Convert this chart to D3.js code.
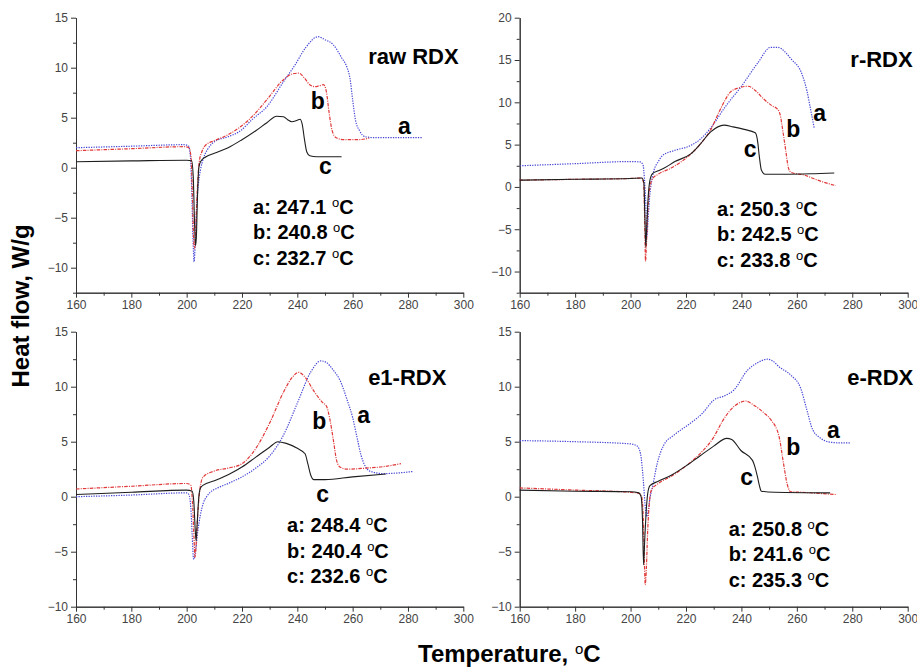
<!DOCTYPE html>
<html>
<head>
<meta charset="utf-8">
<script src="https://cdn.jsdelivr.net/npm/d3@7"></script>
<style>
body { margin: 0; background: #fff; }
svg { display: block; font-family: "Liberation Sans", Arial, sans-serif; }
</style>
</head>
<body>
<svg id="chart" width="917" height="669"></svg>
<script>
// DSC curves, [temperature (oC), heat flow (W/g)]
var rawA = [[160,2.0],[180,2.15],[199,2.3],[200.6,2.2],[201.4,1.0],[201.9,-3],[202.4,-8],[202.7,-9.4],[203.1,-7.5],[203.6,-4],[204.3,-1.5],[205,-0.2],[206,0.9],[207.5,1.8],[210,2.6],[215,3.1],[219,3.6],[224,4.9],[229,6.1],[235,8.6],[239,10.2],[243,12.0],[247.5,13.1],[250,12.8],[253,12.3],[256,11.0],[258,10.0],[259,9.0],[260,6.8],[261,4.8],[262.5,3.7],[264.5,3.1],[268,3.0],[275,3.0],[285,3.0]];
var rawB = [[160,1.7],[180,1.9],[199,2.1],[200.8,2.0],[201.6,1.0],[202.1,-3],[202.6,-7.5],[202.9,-8.1],[203.3,-6],[203.8,-2.5],[204.5,0.5],[205.5,1.6],[207,2.3],[210,2.7],[215,3.3],[219,4.0],[224,5.2],[229,6.8],[235,8.8],[238.5,9.4],[240.5,9.45],[242.5,9.0],[244.5,8.3],[246.5,8.1],[248,8.2],[249.5,8.3],[250.5,7.6],[251.5,5.5],[252.5,3.8],[254,3.0],[257,2.8],[262,2.8],[266,2.95]];
var rawC = [[160,0.6],[180,0.68],[200,0.75],[201.8,0.7],[202.4,-1],[202.8,-5],[203.2,-7.8],[203.5,-7],[203.9,-3],[204.4,0],[205,0.6],[207,1.1],[210,1.45],[215,2.0],[220,2.8],[225,3.7],[229,4.5],[232.5,5.15],[235,5.1],[236.5,4.8],[238,4.6],[240,4.75],[241,4.85],[241.8,4.3],[242.6,2.8],[243.4,1.6],[244.5,1.2],[247,1.1],[256,1.1]];

var rA = [[160,2.5],[180,2.75],[200,3.0],[203.5,2.95],[204.5,2.6],[205,1],[205.5,-2],[205.9,-5.8],[206.3,-4],[206.8,-1.5],[207.5,0.5],[208.5,2.0],[210,3.0],[211.5,3.7],[215.7,4.3],[221.7,4.9],[225,5.6],[229,7.0],[234,9.4],[240,11.9],[246,14.7],[250.5,16.5],[253,16.5],[258,15.1],[262,13.2],[263.6,11.4],[265,9.1],[266.3,6.9]];
var rB = [[160,0.8],[180,0.9],[200,1.0],[204,1.05],[204.7,0.5],[205.1,-4],[205.4,-8.8],[205.7,-7],[206.2,-3],[207,0],[208,1.0],[210,1.5],[215,2.3],[220,3.4],[225,5.0],[229,6.8],[232,8.9],[236,11.2],[239,11.7],[242.5,11.9],[245,11.4],[248,10.4],[251,9.6],[253,9.2],[254,8.5],[255,6.5],[256,4.3],[257,2.2],[258,1.7],[262.7,1.4],[267.5,0.8],[274,0.15]];
var rC = [[160,0.8],[180,0.9],[200,1.0],[204,1.05],[204.8,0.5],[205.2,-4],[205.5,-7.1],[205.8,-5],[206.3,-1.5],[207,0.8],[208,1.6],[210,1.9],[212,2.2],[216,3.0],[221.7,3.9],[225,5.0],[228.9,6.5],[233.7,7.3],[237,7.1],[241,6.8],[245,6.4],[245.8,5.5],[246.5,3.5],[247.2,2.0],[248.5,1.5],[255,1.5],[265,1.55],[273.5,1.65]];

var e1A = [[160,0.0],[180,0.15],[200,0.35],[200.8,0.2],[201.5,-1],[202,-3.5],[202.5,-5.7],[203,-5.3],[204,-3.2],[205,-1.6],[206,-0.6],[207.2,0],[208.5,0.4],[210.8,0.75],[215,1.2],[220,1.8],[225,2.6],[230,3.7],[235,5.6],[240,8.5],[245,11.4],[248.5,12.35],[250.5,12.2],[253,11.5],[255.4,10.6],[258,8.8],[260,7.2],[261.5,5.5],[263,3.8],[264.5,2.8],[266,2.35],[271,2.1],[276,2.15],[282,2.3]];
var e1B = [[160,0.7],[180,0.95],[200,1.2],[201.5,1.05],[202.2,-1],[202.7,-4],[203,-5.5],[203.4,-4.5],[203.9,-2],[204.5,0],[205.2,1.3],[206,1.8],[209.6,2.3],[215,2.6],[220,3.0],[225.3,4.5],[230,6.7],[235,9.5],[238,10.8],[240.5,11.3],[243,10.8],[246,9.6],[249,8.6],[250.6,8.2],[251.8,7.0],[253,5.2],[254.2,3.3],[255.4,2.7],[258,2.5],[265,2.6],[270,2.7],[277.5,3.0]];
var e1C = [[160,0.2],[180,0.4],[200,0.6],[202,0.5],[202.6,-0.5],[203.1,-3],[203.4,-4],[203.8,-2.5],[204.4,0],[205,0.8],[206,1.05],[210,1.45],[215,2.0],[220,2.7],[225,3.6],[230,4.5],[233,5.0],[236,4.85],[240,4.4],[242.8,3.9],[243.8,3.0],[244.8,2.0],[246,1.55],[250,1.55],[260,1.8],[272,2.06]];

var eA = [[160,5.1],[180,5.0],[200,4.8],[202.4,4.6],[203.6,3.9],[204.6,1.5],[205.2,-0.6],[205.8,-1.8],[206.4,-1.2],[207.1,0],[207.8,0.75],[209.6,3.0],[212,4.7],[215.7,5.6],[221.7,6.7],[226,7.6],[230.1,8.8],[233.7,9.15],[237.3,9.7],[242.2,11.5],[246,12.2],[249.4,12.5],[251.5,12.3],[253.6,11.8],[257.8,11.06],[261.4,9.85],[263.6,7.9],[265.7,6.1],[268.7,5.3],[271.1,5.0],[275,4.9],[279.5,4.9]];
var eB = [[160,0.8],[180,0.6],[200,0.4],[203,0.3],[204,0],[204.6,-2],[205,-6],[205.3,-8.0],[205.7,-6.5],[206.2,-3],[206.8,-0.5],[207.5,0.6],[210,1.2],[215,1.9],[220,2.8],[225,3.9],[230.1,5.45],[233,6.8],[236.1,7.9],[239,8.5],[241.6,8.7],[244,8.4],[248.2,7.6],[250.6,7.0],[253.6,5.45],[255.2,3.0],[256.6,1.06],[257.8,0.45],[262,0.4],[268,0.3],[274,0.2]];
var eC = [[160,0.6],[180,0.5],[200,0.45],[203,0.35],[203.8,0],[204.3,-2],[204.7,-6.2],[205.1,-4],[205.6,-1.5],[206.2,0.3],[207,1.0],[210,1.4],[215,2.0],[220,2.8],[225,3.7],[230,4.6],[234.7,5.3],[236.5,5.2],[239.8,4.2],[244,3.3],[245,2.6],[245.8,1.8],[246.5,1.0],[247.2,0.5],[252,0.4],[272,0.35]];

// peak temperatures a, b, c
var seriesNames = ["a", "b", "c"];
var rawPeaks = ["247.1", "240.8", "232.7"];
var rPeaks = ["250.3", "242.5", "233.8"];
var e1Peaks = ["248.4", "240.4", "232.6"];
var ePeaks = ["250.8", "241.6", "235.3"];

var xTicks = [160, 180, 200, 220, 240, 260, 280, 300];

var svg = d3.select("#chart");

var lineStyle = {
    a: { color: "#4646d6", width: 1.2, dash: "1.3,1.2" },
    b: { color: "#e03838", width: 1.2, dash: "3.5,1.2,1,1.2" },
    c: { color: "#1e1e1e", width: 1.1, dash: null }
};

var panels = [
    { title: "raw RDX", xr: [76, 463.3], yr: [292.7, 17.7], yDom: [-12.5, 15], yMaj: [-10, -5, 0, 5, 10, 15],
      curves: { a: rawA, b: rawB, c: rawC }, peaks: rawPeaks,
      titleAt: [265.6, 10.4], letterAt: { a: [276.4, 3.37], b: [244.85, 5.87], c: [247.85, -0.63] }, peakAt: [224.0, -4.6] },
    { title: "r-RDX", xr: [519.7, 907.7], yr: [292.7, 17.7], yDom: [-12.5, 20], yMaj: [-10, -5, 0, 5, 10, 15, 20],
      curves: { a: rA, b: rB, c: rC }, peaks: rPeaks,
      titleAt: [279.3, 14.2], letterAt: { a: [265.9, 7.8], b: [256.2, 5.9], c: [240.8, 3.48] }, peakAt: [231.2, -3.4] },
    { title: "e1-RDX", xr: [76, 463.3], yr: [606.7, 331.7], yDom: [-10, 15], yMaj: [-10, -5, 0, 5, 10, 15],
      curves: { a: e1A, b: e1B, c: e1C }, peaks: e1Peaks,
      titleAt: [265.6, 10.15], letterAt: { a: [261.7, 6.73], b: [245.4, 6.2], c: [246.8, -0.45] }, peakAt: [236.3, -3.2] },
    { title: "e-RDX", xr: [519.7, 907.7], yr: [606.7, 331.7], yDom: [-10, 15], yMaj: [-10, -5, 0, 5, 10, 15],
      curves: { a: eA, b: eB, c: eC }, peaks: ePeaks,
      titleAt: [278.2, 10.15], letterAt: { a: [270.9, 5.3], b: [256.2, 3.8], c: [239.6, 1.06] }, peakAt: [235.4, -3.55] }
];

panels.forEach(function(p) {
    var x = d3.scaleLinear().domain([160, 300]).range(p.xr);
    var y = d3.scaleLinear().domain(p.yDom).range(p.yr);
    var g = svg.append("g");

    // minor ticks first, then the major axis on top
    var xMinor = d3.range(170, 300, 20);
    var yMinor = d3.range(p.yDom[0], p.yDom[1], 2.5).filter(function(v) { return v % 5 !== 0; });

    g.append("g").attr("transform", "translate(0," + p.yr[0] + ")")
        .call(d3.axisBottom(x).tickValues(xMinor).tickSize(3).tickFormat("").tickSizeOuter(0));
    g.append("g").attr("transform", "translate(" + p.xr[0] + ",0)")
        .call(d3.axisLeft(y).tickValues(yMinor).tickSize(3).tickFormat("").tickSizeOuter(0));

    g.append("g").attr("transform", "translate(0," + p.yr[0] + ")")
        .call(d3.axisBottom(x).tickValues(xTicks).tickSize(5).tickPadding(3).tickSizeOuter(0));
    g.append("g").attr("transform", "translate(" + p.xr[0] + ",0)")
        .call(d3.axisLeft(y).tickValues(p.yMaj).tickSize(5).tickPadding(3).tickSizeOuter(0));

    g.selectAll(".domain, .tick line").attr("stroke", "#333").attr("stroke-width", 1);
    g.selectAll(".tick text").attr("fill", "#444").style("font-size", "12px")
        .style("font-family", "'Liberation Sans', Arial, sans-serif");

    var line = d3.line()
        .x(function(d) { return x(d[0]); })
        .y(function(d) { return y(d[1]); })
        .curve(d3.curveMonotoneX);

    ["a", "b", "c"].forEach(function(k) {
        var s = lineStyle[k];
        g.append("path")
            .datum(p.curves[k])
            .attr("d", line)
            .attr("fill", "none")
            .attr("stroke", s.color)
            .attr("stroke-width", s.width)
            .attr("stroke-dasharray", s.dash);
    });

    g.append("text")
        .attr("x", x(p.titleAt[0]))
        .attr("y", y(p.titleAt[1]))
        .style("font-size", "22px").style("font-weight", "bold")
        .text(p.title);

    seriesNames.forEach(function(k) {
        g.append("text")
            .attr("x", x(p.letterAt[k][0]))
            .attr("y", y(p.letterAt[k][1]))
            .style("font-size", "23px").style("font-weight", "bold")
            .text(k);
    });

    seriesNames.forEach(function(k, i) {
        var t = g.append("text")
            .attr("x", x(p.peakAt[0]))
            .attr("y", y(p.peakAt[1]) + i * 25.7)
            .style("font-size", "20px").style("font-weight", "bold");
        t.append("tspan").text(k + ": " + p.peaks[i] + " ");
        t.append("tspan").attr("dy", -7).style("font-size", "13px").style("font-weight", "normal").text("o");
        t.append("tspan").attr("dy", 7).text("C");
    });
});

// shared axis titles
svg.append("text")
    .attr("transform", "translate(29,306) rotate(-90)")
    .attr("text-anchor", "middle")
    .style("font-size", "24px").style("font-weight", "bold")
    .text("Heat flow, W/g");

var xt = svg.append("text")
    .attr("x", 418).attr("y", 662)
    .style("font-size", "24px").style("font-weight", "bold");
xt.append("tspan").text("Temperature, ");
xt.append("tspan").attr("dy", -8).style("font-size", "15px").style("font-weight", "normal").text("o");
xt.append("tspan").attr("dy", 8).text("C");
</script>
</body>
</html>
